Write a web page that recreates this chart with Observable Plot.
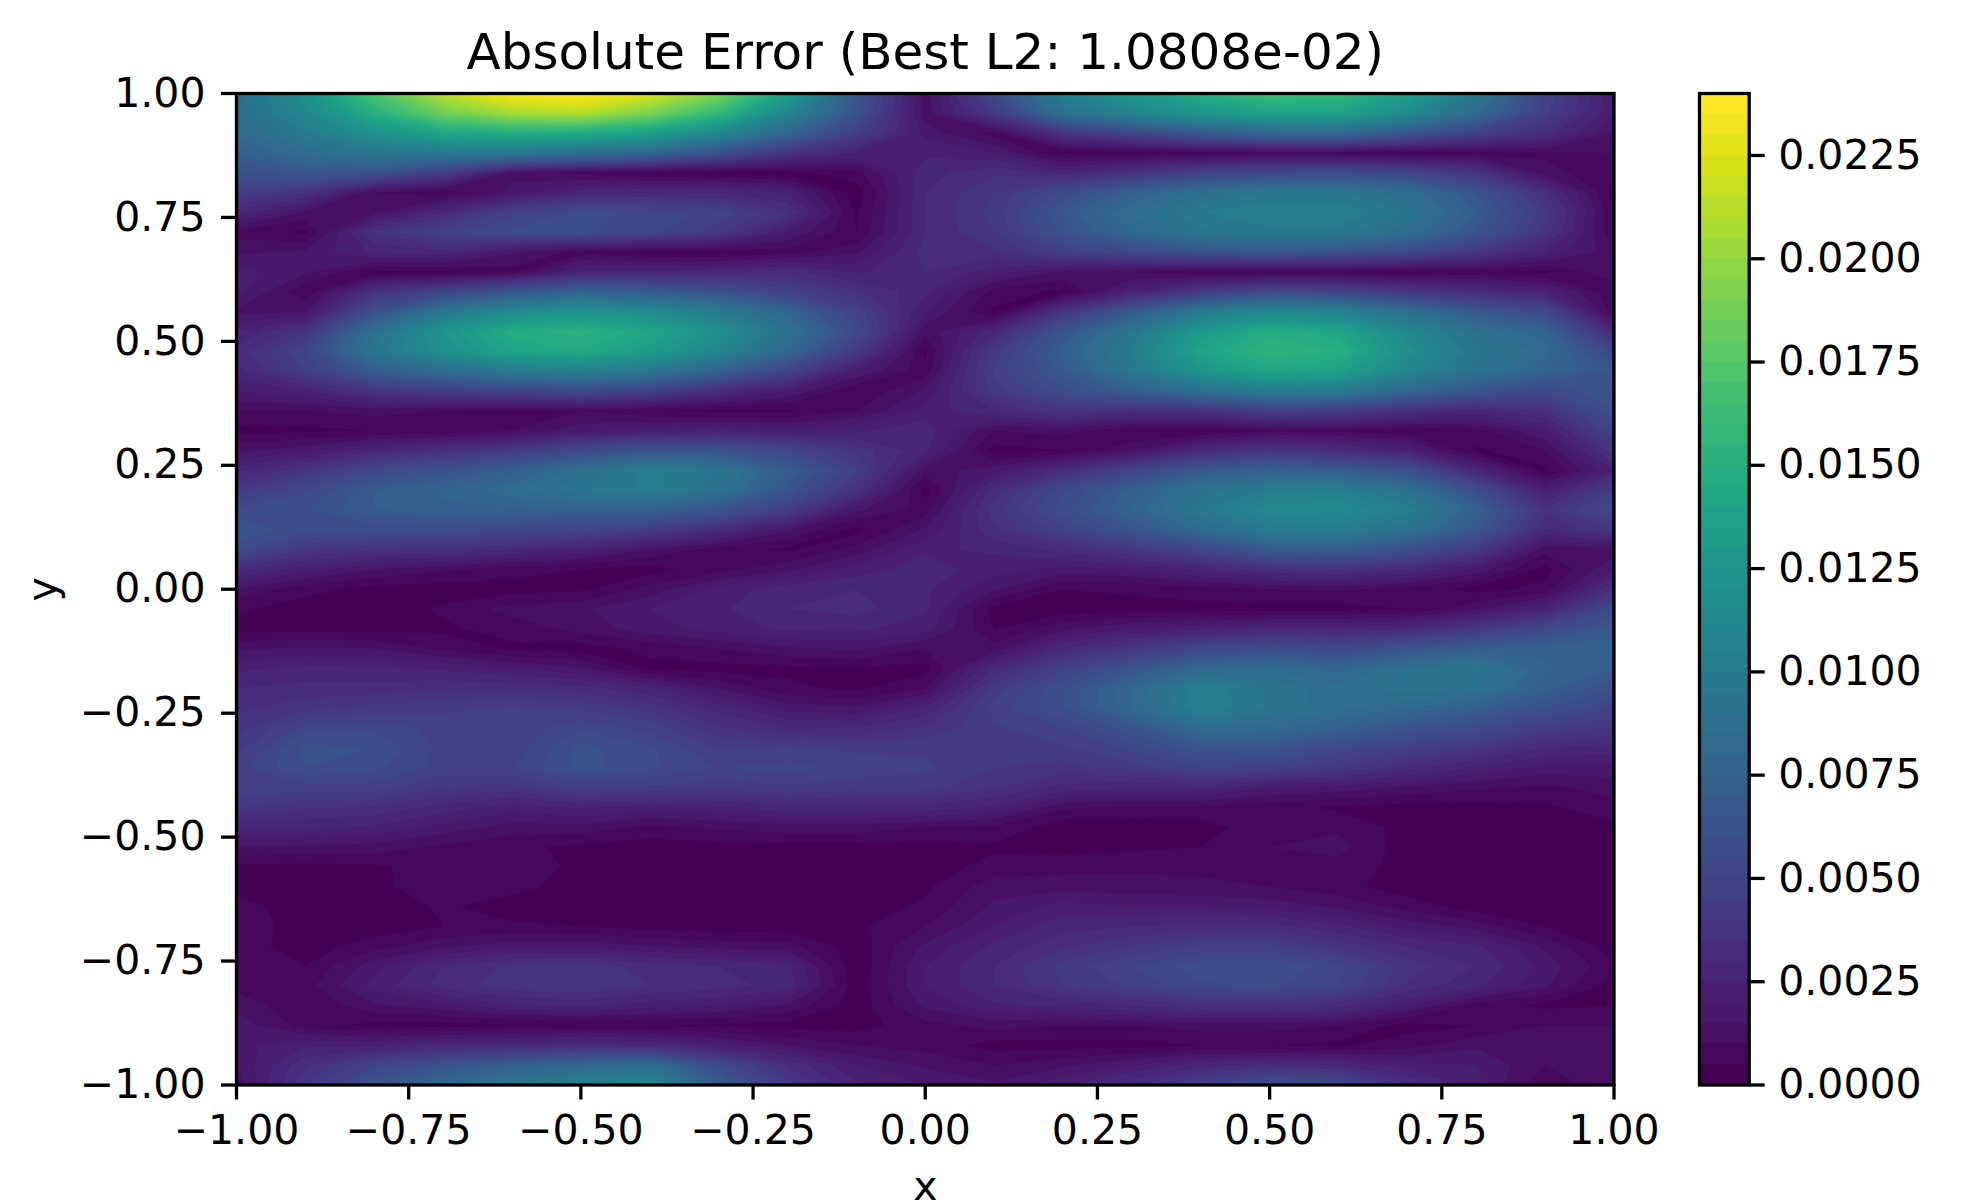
<!DOCTYPE html>
<html>
<head>
<meta charset="utf-8">
<script src="https://cdn.jsdelivr.net/npm/d3@7"></script>
<script src="https://cdn.jsdelivr.net/npm/@observablehq/plot@0.6"></script>
<style>
html,body{margin:0;padding:0;background:#fff;width:1985px;height:1202px;overflow:hidden}
#chart{position:relative;width:1985px;height:1202px}
#chart svg{position:absolute;left:0;top:0;background:transparent;font-family:"DejaVu Sans"}
</style>
</head>
<body>
<div id="chart"></div>
<script>
const titleText = "Absolute Error (Best L2: 1.0808e-02)";
const axisTicks = [-1,-0.75,-0.5,-0.25,0,0.25,0.5,0.75,1];
const barTicks = [0,0.0025,0.005,0.0075,0.01,0.0125,0.015,0.0175,0.02,0.0225];
const bandCount = 48, bandStep = 0.0005;

// Absolute error ×1e-4, one array per x, from y = 1 down to y = -1 in steps of 0.04
const xM10 = [88,86,82,72,60,45,28,8,14,22, 22,14,25,32,28,20,10,3,14,28, 42,56,66,56,32,14,6,3,14,24, 30,34,38,42,48,48,40,26,15,4, 2,8,10,8,5,8,14,18,18,15,12];
const xM09 = [120,112,100,85,65,36,14,4,16,16, 6,15,38,50,45,25,10,4,18,38, 54,60,56,40,22,7,2,3,16,26, 32,38,52,62,60,48,36,26,14,3, 1,1,1,2,5,8,5,8,24,34,40];
const xM08 = [170,150,122,95,62,10,14,36,26,4, 36,60,90,95,70,38,12,5,28,54, 70,70,56,36,15,3,1,3,15,26, 32,42,54,60,56,48,34,24,13,4, 3,1,2,8,18,22,14,3,24,50,64];
const xM07 = [215,185,140,98,45,5,30,48,28,4, 50,95,125,120,85,45,10,6,34,62, 76,74,56,34,11,2,6,4,9,24, 34,44,48,48,48,40,28,18,9,8, 10,6,5,14,30,32,18,3,28,62,82];
const xM06 = [238,205,148,95,14,16,48,56,16,8, 65,115,148,140,98,50,8,10,42,72, 84,74,54,30,7,3,12,7,4,20, 34,46,46,46,50,38,22,13,6,10, 7,2,6,18,36,38,24,4,30,72,96];
const xM05 = [240,210,145,88,8,28,56,56,8,26, 75,125,152,145,105,55,10,18,54,88, 94,74,50,24,5,4,14,12,3,16, 32,44,54,62,62,46,26,13,4,3, 2,1,5,18,38,40,26,5,32,80,106];
const xM04 = [225,190,135,80,5,30,54,52,5,26, 70,116,142,132,95,48,5,22,64,102, 102,74,44,15,3,12,20,18,6,4, 26,38,48,56,56,44,22,9,2,1, 1,1,3,15,33,35,22,5,30,86,112];
const xM03 = [192,158,112,60,4,30,48,42,4,28, 62,100,120,110,75,32,4,24,64,94, 90,64,32,7,8,22,24,22,10,3, 15,28,36,44,50,42,24,11,3,1, 1,1,2,13,30,32,20,4,22,56,72];
const xM02 = [135,110,78,38,3,24,36,20,8,32, 48,78,90,80,50,20,4,22,52,70, 64,44,16,4,14,28,30,26,14,4, 6,18,30,46,52,44,28,13,3,1, 1,1,2,12,26,28,14,3,15,34,42];
const xM01 = [65,62,46,24,8,2,4,5,14,24, 36,48,55,42,20,5,10,24,38,46, 36,16,3,12,22,30,32,26,16,5, 4,16,30,44,48,42,28,13,3,1, 1,2,4,2,1,2,2,3,10,20,26];
const xZ00 = [12,12,18,24,28,30,30,30,32,30, 26,20,12,4,7,16,22,28,26,12, 3,8,16,24,28,26,26,22,10,3, 10,26,36,44,46,42,28,10,3,2, 4,6,10,16,20,20,16,8,8,14,20];
const xP01 = [55,42,8,20,34,40,42,40,34,22, 8,4,28,42,46,42,30,10,3,18, 32,38,34,26,22,16,3,5,12,30, 42,47,44,42,40,36,24,9,4,7, 13,16,20,26,30,30,24,12,3,10,16];
const xP02 = [105,88,38,4,28,56,66,62,46,14, 4,38,64,72,68,58,38,12,5,32, 54,58,48,32,18,5,2,14,30,48, 60,60,50,44,38,28,11,2,3,8, 13,22,28,34,42,40,26,10,3,14,24];
const xP03 = [128,108,52,5,36,74,86,80,54,10, 24,68,95,102,96,72,34,5,14,50, 72,76,64,40,20,6,3,20,40,64, 80,80,64,52,42,26,9,2,4,9, 12,20,30,40,50,46,30,10,3,20,34];
const xP04 = [150,126,68,6,48,88,100,94,62,6, 42,98,130,140,125,88,36,4,30,68, 92,98,82,52,26,8,3,24,52,82, 104,106,84,64,50,27,9,3,5,9, 11,20,32,46,58,54,34,12,5,28,48];
const xP05 = [165,138,80,9,54,96,105,98,66,5, 54,112,148,155,142,100,46,9,38,74, 102,114,100,68,34,10,3,27,58,84, 94,94,82,64,48,20,7,8,10,9, 10,18,32,46,60,56,34,12,5,32,60];
const xP06 = [160,138,82,7,56,96,105,98,62,6, 50,106,142,150,138,98,44,9,32,70, 104,116,102,70,36,11,3,27,54,78, 87,87,74,54,40,18,4,9,12,8, 7,14,26,38,52,50,32,10,4,30,55];
const xP07 = [135,115,66,5,52,86,94,86,54,5, 40,88,112,118,110,80,34,6,24,60, 90,104,90,60,30,8,5,30,64,90, 94,80,64,46,32,14,3,3,2,3, 2,8,18,30,38,34,20,3,8,22,36];
const xP08 = [95,82,48,7,38,64,70,64,40,6, 32,68,90,96,90,64,28,8,4,28, 58,74,66,42,18,3,14,40,72,96, 90,72,56,40,24,11,3,1,1,1, 1,2,13,26,30,26,7,5,14,20,22];
const xP09 = [50,46,32,9,12,34,42,38,24,4, 24,54,76,82,76,54,35,20,10,4, 22,36,30,12,3,7,26,54,74,76, 72,60,44,30,18,9,4,1,1,1, 1,1,5,14,18,16,4,10,14,10,5];
const xP10 = [20,20,15,10,6,3,5,5,12,14, 6,6,28,52,64,66,60,50,38,25, 45,55,40,12,20,35,55,68,72,70, 60,50,40,28,18,12,8,4,3,2, 1,1,1,2,6,2,5,10,12,12,15];

const columns = [xM10,xM09,xM08,xM07,xM06,xM05,xM04,xM03,xM02,xM01,xZ00,xP01,xP02,xP03,xP04,xP05,xP06,xP07,xP08,xP09,xP10];
const nCols = columns.length, nRows = xM10.length;
const dx = 0.1, dy = 0.04;
const grid = [];
for (let j = 0; j < nRows; ++j) for (let i = 0; i < nCols; ++i) grid.push(columns[i][j] / 1e4);

const thresholds = d3.range(bandCount).map(i => i * bandStep);
const colorScale = {type: "linear", domain: [0, (bandCount - 1) * bandStep], scheme: "viridis"};
const fmt2 = d3.format(".2f");
const LINE = 3.3, FONT = 41;

const main = Plot.plot({
  width: 1985, height: 1202,
  marginLeft: 236, marginRight: 371.5, marginTop: 93, marginBottom: 117.5,
  style: {fontFamily: "DejaVu Sans", fontSize: FONT + "px", background: "transparent"},
  x: {domain: [-1, 1]},
  y: {domain: [-1, 1]},
  color: colorScale,
  marks: [
    Plot.contour(grid, {
      width: nCols, height: nRows,
      x1: -1 - dx / 2, x2: 1 + dx / 2, y1: 1 + dy / 2, y2: -1 - dy / 2,
      value: d => d, fill: "value", thresholds, smooth: true, clip: "frame"
    }),
    Plot.frame({stroke: "black", strokeWidth: LINE}),
    Plot.axisX({ticks: axisTicks, tickFormat: fmt2, tickSize: 15, tickPadding: 15, strokeWidth: LINE,
      fontSize: FONT, label: "x", labelAnchor: "center", labelArrow: "none", labelOffset: 115}),
    Plot.axisY({ticks: axisTicks, tickFormat: fmt2, tickSize: 15, tickPadding: 16, strokeWidth: LINE,
      fontSize: FONT, label: "y", labelAnchor: "center", labelArrow: "none", labelOffset: 210}),
    Plot.text([titleText], {frameAnchor: "top", lineAnchor: "bottom", dy: -25, fontSize: 50, fill: "black"})
  ]
});

const bar = Plot.plot({
  width: 1985, height: 1202,
  marginLeft: 1699, marginRight: 236.3, marginTop: 93, marginBottom: 117.5,
  style: {fontFamily: "DejaVu Sans", fontSize: FONT + "px", background: "transparent"},
  x: {domain: [0, 1], axis: null},
  y: {domain: [0, 0.024]},
  color: colorScale,
  marks: [
    Plot.rect(thresholds, {x1: 0, x2: 1, y1: d => d, y2: d => d + bandStep, fill: d => d, shapeRendering: "crispEdges"}),
    Plot.frame({stroke: "black", strokeWidth: LINE}),
    Plot.axisY({anchor: "right", ticks: barTicks, tickFormat: d3.format(".4f"), tickSize: 15, tickPadding: 14,
      strokeWidth: LINE, fontSize: FONT, label: null})
  ]
});

const chart = document.getElementById("chart");
chart.append(main);
chart.append(bar);
</script>
</body>
</html>
